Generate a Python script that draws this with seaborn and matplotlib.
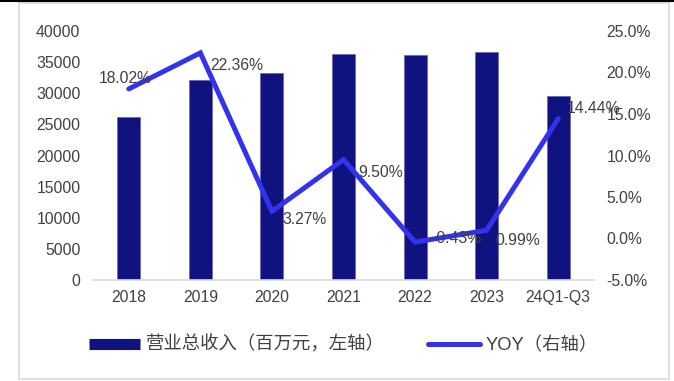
import numpy as np
import pandas as pd
import matplotlib
matplotlib.use("Agg")
import matplotlib.pyplot as plt
from matplotlib.patches import Rectangle
from matplotlib.lines import Line2D
import seaborn as sns

# Data
periods = ["2018", "2019", "2020", "2021", "2022", "2023", "24Q1-Q3"]
revenue = [26260, 32170, 33190, 36360, 36200, 36570, 29530]   # 百万元
yoy = [18.02, 22.36, 3.27, 9.50, -0.43, 0.99, 14.44]           # %
left_ticks = [0, 5000, 10000, 15000, 20000, 25000, 30000, 35000, 40000]
right_ticks = [-5.0, 0.0, 5.0, 10.0, 15.0, 20.0, 25.0]
bar_label = "营业总收入（百万元，左轴）"
line_label = "YOY（右轴）"

# Label offsets in pixels (dx, dy, horizontal alignment)
label_offsets = [(-4, 10, "center"), (10, -13, "left"), (10, -8, "left"),
                 (15, -13, "left"), (16, 4, "left"), (9, -10, "left"),
                 (9, 10, "left")]

sns.set_theme(style="white")
plt.rcParams["font.family"] = ["Liberation Sans", "Noto Sans CJK SC", "DejaVu Sans"]

BAR_COLOR = "#10127F"
LINE_COLOR = "#3333EE"
TEXT_COLOR = "#404040"
FS = 11.3

df = pd.DataFrame({"period": periods, "revenue": revenue, "yoy": yoy,
                   "pos": np.arange(len(periods))})

fig = plt.figure(figsize=(6.74, 3.81), dpi=100)
ax = fig.add_axes([93 / 674, 1 - 280 / 381, (594 - 93) / 674, (280 - 31) / 381])

sns.barplot(data=df, x="period", y="revenue", color=BAR_COLOR, width=0.32,
            saturation=1, ax=ax, edgecolor="#5a5ab0", linewidth=0.4)
ax.set_ylim(0, 40000)
ax.set_yticks(left_ticks)
ax.set_yticklabels([str(t) for t in left_ticks])
ax.set_xlim(-0.5, len(periods) - 0.5)
ax.set_xlabel("")
ax.set_ylabel("")

ax2 = ax.twinx()
sns.lineplot(data=df, x="pos", y="yoy", color=LINE_COLOR, linewidth=3.6,
             ax=ax2, solid_capstyle="round", solid_joinstyle="miter")
ax2.set_ylim(-5, 25)
ax2.set_yticks(right_ticks)
ax2.set_yticklabels([f"{t:.1f}%" for t in right_ticks])
ax2.set_xlim(-0.5, len(periods) - 0.5)
ax2.set_xlabel("")
ax2.set_ylabel("")

for i, v in enumerate(yoy):
    dx, dy, ha = label_offsets[i]
    ax2.annotate(f"{v:.2f}%", (i, v), xytext=(dx * 0.72, dy * 0.72),
                 textcoords="offset points", ha=ha, va="center",
                 fontsize=FS, color=TEXT_COLOR)

for a in (ax, ax2):
    for s in a.spines.values():
        s.set_visible(False)
    a.tick_params(axis="both", length=0, labelsize=FS, colors=TEXT_COLOR)
ax.spines["bottom"].set_visible(True)
ax.spines["bottom"].set_color("#d9d9d9")
ax.spines["bottom"].set_linewidth(1.2)
ax.tick_params(axis="y", pad=9)
ax.tick_params(axis="x", pad=7)
ax2.tick_params(axis="y", pad=9)

# Legend below the plot
handles = [Line2D([0], [0], color=BAR_COLOR, linewidth=8, solid_capstyle="butt"),
           Line2D([0], [0], color=LINE_COLOR, linewidth=3.6, solid_capstyle="round")]
fig.legend(handles, [bar_label, line_label], loc="center",
           bbox_to_anchor=(343 / 674, 1 - 345 / 381), ncol=2, frameon=False,
           fontsize=13.2, handlelength=2.8, handletextpad=0.3, columnspacing=2.4,
           labelcolor=TEXT_COLOR)

# Frame around the chart and rule along the top edge
fig.patches.append(Rectangle((19 / 674, 1 - 379 / 381), (669 - 19) / 674,
                             (379 - 3) / 381, transform=fig.transFigure,
                             fill=False, edgecolor="#d9d9d9", linewidth=1.2))
fig.lines.append(Line2D([0, 1], [1 - 0.8 / 381] * 2, transform=fig.transFigure,
                        color="black", linewidth=1.5))

fig.savefig("out.png", dpi=100)
